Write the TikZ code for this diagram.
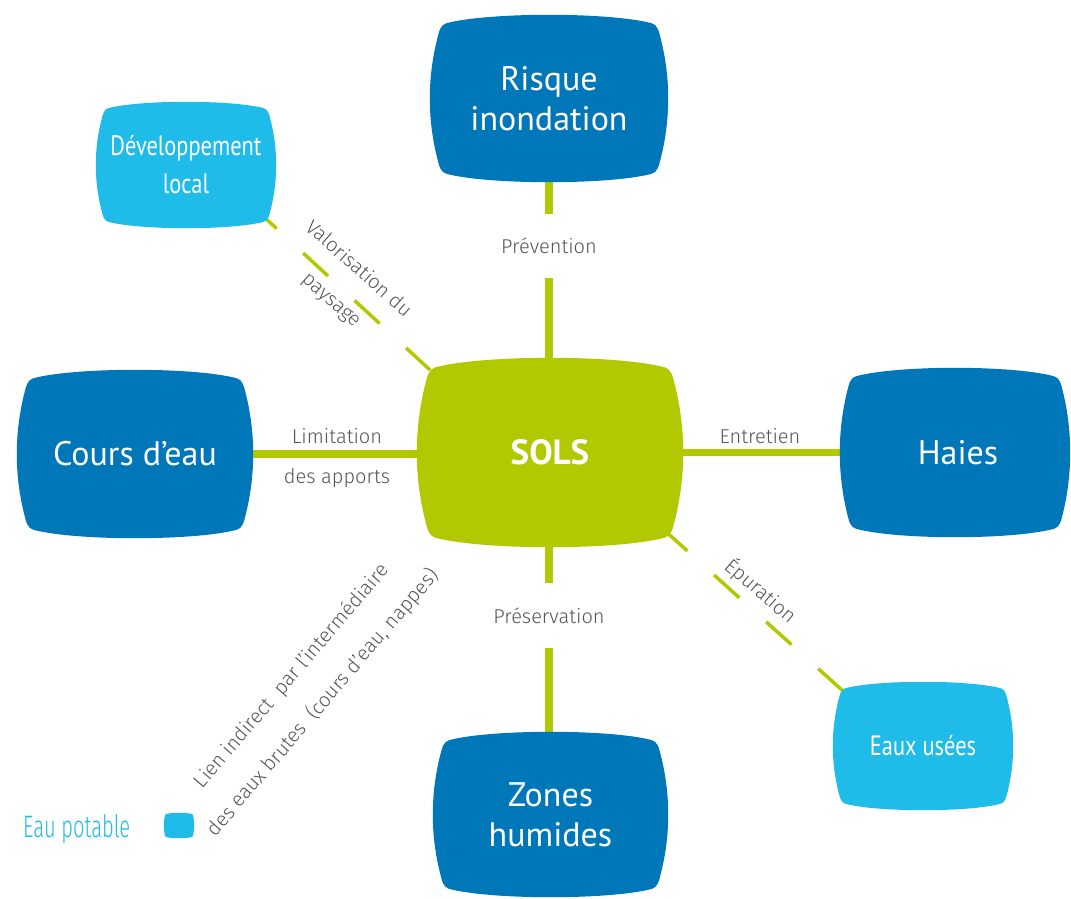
\documentclass[tikz,border=0pt]{standalone}
\usepackage{fontspec}
\usetikzlibrary{calc}
\newfontfamily\boxfont{PT Sans}
\newfontfamily\boxcond{PT Sans}[FakeStretch=0.8]
\IfFontExistsTF{Fira Sans Light}{%
  \newfontfamily\lightfont{Fira Sans Light}%
  \newfontfamily\legfont{Fira Sans Light}[FakeStretch=0.65]%
}{%
  \newfontfamily\lightfont{Fira Sans}%
  \newfontfamily\legfont{Fira Sans}[FakeStretch=0.65]%
}
\definecolor{dblue}{RGB}{0,119,184}
\definecolor{lblue}{RGB}{31,187,233}
\definecolor{sgreen}{RGB}{178,200,0}
\definecolor{lgrey}{RGB}{85,85,85}
\pgfdeclarelayer{lines}
\pgfdeclarelayer{shapes}
\pgfsetlayers{lines,shapes,main}
\newcommand\tvfill[2]{%
 \fill[#2] let \p1=(#1.north west), \p2=(#1.south east), \n1={\x2-\x1}, \n2={\y1-\y2} in
 ({\x1+0.07*\n1},{\y1-0.05*\n2})
 .. controls ({\x1+0.25*\n1},{\y1+0.0167*\n2}) and ({\x2-0.25*\n1},{\y1+0.0167*\n2}) .. ({\x2-0.07*\n1},{\y1-0.05*\n2})
 .. controls ({\x2-0.045*\n1},{\y1-0.06*\n2}) and ({\x2-0.04*\n1},{\y1-0.093*\n2}) .. ({\x2-0.03*\n1},{\y1-0.15*\n2})
 .. controls ({\x2+0.01*\n1},{\y1-0.38*\n2}) and ({\x2+0.01*\n1},{\y2+0.38*\n2}) .. ({\x2-0.03*\n1},{\y2+0.15*\n2})
 .. controls ({\x2-0.04*\n1},{\y2+0.093*\n2}) and ({\x2-0.045*\n1},{\y2+0.06*\n2}) .. ({\x2-0.07*\n1},{\y2+0.05*\n2})
 .. controls ({\x2-0.25*\n1},{\y2-0.0167*\n2}) and ({\x1+0.25*\n1},{\y2-0.0167*\n2}) .. ({\x1+0.07*\n1},{\y2+0.05*\n2})
 .. controls ({\x1+0.045*\n1},{\y2+0.06*\n2}) and ({\x1+0.04*\n1},{\y2+0.093*\n2}) .. ({\x1+0.03*\n1},{\y2+0.15*\n2})
 .. controls ({\x1-0.01*\n1},{\y2+0.38*\n2}) and ({\x1-0.01*\n1},{\y1-0.38*\n2}) .. ({\x1+0.03*\n1},{\y1-0.15*\n2})
 .. controls ({\x1+0.04*\n1},{\y1-0.093*\n2}) and ({\x1+0.045*\n1},{\y1-0.06*\n2}) .. ({\x1+0.07*\n1},{\y1-0.05*\n2}) -- cycle;
}
\tikzset{
 boxtxt/.style={inner sep=0pt, align=center, text=white, font=\boxfont\fontsize{34}{40}\selectfont},
 smalltxt/.style={inner sep=0pt, align=center, text=white, font=\boxcond\fontsize{28}{38}\selectfont},
 boldtxt/.style={inner sep=0pt, text=white, font=\boxfont\bfseries\fontsize{35}{40}\selectfont},
 lbl/.style={inner sep=0pt, text=lgrey, font=\lightfont\fontsize{20}{24}\selectfont},
 lbltwo/.style={inner sep=0pt, text=lgrey, align=center, font=\lightfont\fontsize{20}{41}\selectfont},
 gline/.style={draw=sgreen, line width=7.5pt},
 dline/.style={draw=sgreen, line width=3.5pt, dash pattern=on 34pt off 36pt},
}
\begin{document}
\begin{tikzpicture}[x=1pt,y=-1pt]
\useasboundingbox (0,0) rectangle (1071,898);
% boxes
\node[boxtxt, minimum width=238pt, minimum height=167pt] (risque) at (549,98.5) {Risque\\inondation};
\node[smalltxt, minimum width=180pt, minimum height=126pt] (dev) at (186,165) {Développement\\local};
\node[boxtxt, minimum width=236pt, minimum height=168pt] (cours) at (135,454) {Cours d’eau};
\node[boldtxt, minimum width=266pt, minimum height=189pt] (sols) at (550,452.5) {SOLS};
\node[minimum width=230pt, minimum height=169pt, inner sep=0pt] (haies) at (955,452.5) {};
\node[boxtxt] (haiestxt) at (958,453) {Haies};
\node[smalltxt, minimum width=180pt, minimum height=128pt] (eaux) at (923,746) {Eaux usées};
\node[boxtxt, minimum width=235pt, minimum height=165pt] (zones) at (550.5,814.5) {Zones\\humides};
% legend
\node[inner sep=0pt, minimum width=30pt, minimum height=25pt] (legbox) at (179,825.5) {};
\node[inner sep=0pt, anchor=base west, text=lblue, font=\legfont\fontsize{31}{36}\selectfont] (legtxt) at (23,837) {Eau potable};
% labels
\node[lbl, minimum height=64pt] (prev) at (549,246) {\raisebox{-3pt}{Prévention}};
\node[lbl, minimum height=65pt] (pres) at (549,615.5) {\raisebox{-2pt}{Préservation}};
\node[lbl, anchor=base] (limit) at (337,443) {Limitation};
\node[lbl, anchor=base] (apports) at (337,483) {des apports};
\node[lbl, anchor=base] (entre) at (760,443) {Entretien};
\node[lbltwo, rotate=-41.5] (valo) at (345,285) {Valorisation du\\paysage};
\node[lbl, rotate=-40.6] (epur) at (761,591) {Épuration};
\node[lbltwo, rotate=49.4] (lien) at (307.5,689.5) {Lien indirect\ \ par l’intermédiaire\\des eaux brutes\ \ (cours d’eau, nappes)};
% shapes
\begin{pgfonlayer}{shapes}
\tvfill{risque}{dblue}
\tvfill{dev}{lblue}
\tvfill{cours}{dblue}
\tvfill{sols}{sgreen}
\tvfill{haies}{dblue}
\tvfill{eaux}{lblue}
\tvfill{zones}{dblue}
\tvfill{legbox}{lblue}
\end{pgfonlayer}
% connectors
\begin{pgfonlayer}{lines}
\draw[gline] (risque.south) -- (prev.north);
\draw[gline] (prev.south) -- (prev.south |- sols.north);
\draw[gline] (pres.north |- sols.south) -- (pres.north);
\draw[gline] (pres.south) -- (pres.south |- zones.north);
\draw[gline] (cours.east) -- (cours.east -| sols.west);
\draw[gline] (haies.west) -- (sols.east);
\draw[dline, shorten <=-33.4pt, shorten >=-18pt] (dev.south east) -- (sols.north west);
\draw[dline, shorten <=-28.4pt, shorten >=-15pt] (sols.south east) -- (eaux.north west);
\end{pgfonlayer}
\end{tikzpicture}
\end{document}
